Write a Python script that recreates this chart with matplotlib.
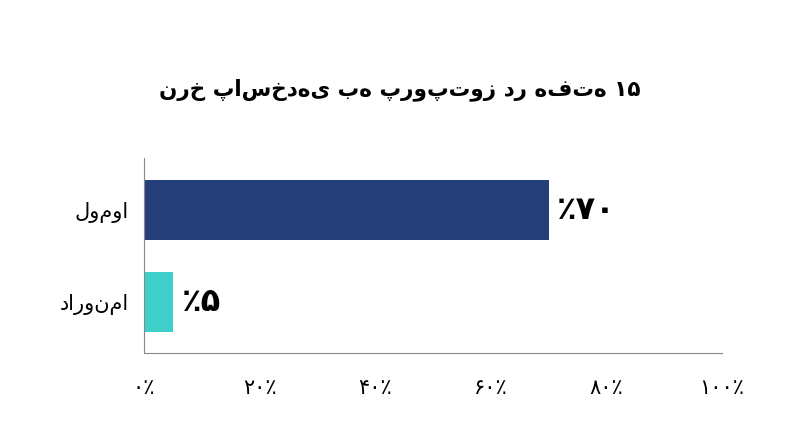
import matplotlib
matplotlib.use("Agg")
import matplotlib.pyplot as plt

title = "نرخ پاسخ‌دهی به پروپتوز در هفته ۱۵"
categories = ["دارونما", "لوموا"]
values = [5, 70]
value_labels = ["٪۵", "٪۷۰"]
xticks = [0, 20, 40, 60, 80, 100]
xtick_labels = ["۰٪", "۲۰٪", "۴۰٪", "۶۰٪", "۸۰٪", "۱۰۰٪"]
colors = ["#3ECFCB", "#253F7A"]

plt.rcParams['font.family'] = ['DejaVu Sans']
fig = plt.figure(figsize=(8, 4.47), dpi=100)
ax = fig.add_axes([0.18, 0.21, 0.7225, 0.436])
ypos = list(range(len(categories)))
ax.barh(ypos, values, height=0.65, color=colors)
ax.set_xlim(0, 100)
ax.set_ylim(-0.555, 1.565)
ax.set_yticks(ypos)
ax.set_yticklabels(categories, fontsize=15)
ax.set_xticks(xticks)
ax.set_xticklabels(xtick_labels, fontsize=15)
ax.tick_params(length=0, axis='x', pad=18)
ax.tick_params(length=0, axis='y', pad=11)
for s in ['top', 'right']:
    ax.spines[s].set_visible(False)
for s in ['left', 'bottom']:
    ax.spines[s].set_color('#888888')
for y, v, l in zip(ypos, values, value_labels):
    ax.text(v + 1.5, y, l, va='center', ha='left', fontsize=23, fontweight='bold')
fig.text(0.5, 0.80, title, ha='center', va='center', fontsize=15.5, fontweight='bold')
fig.savefig("out.png", dpi=100)
